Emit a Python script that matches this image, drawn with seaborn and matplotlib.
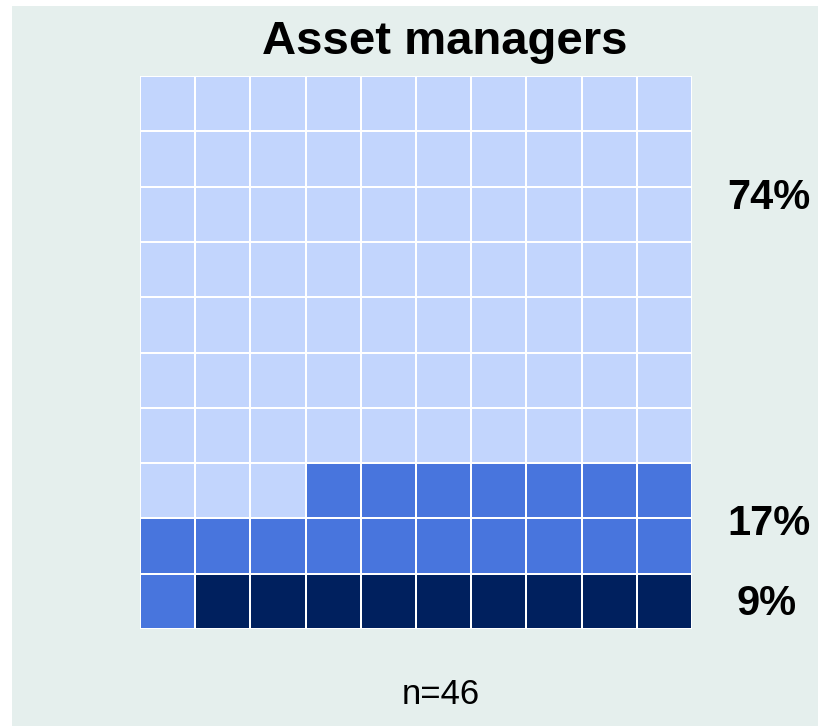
import numpy as np
import matplotlib
matplotlib.use("Agg")
import matplotlib.pyplot as plt
from matplotlib.colors import ListedColormap
from matplotlib.patches import Rectangle
import seaborn as sns

# data (cells out of 100, filled from bottom right)
categories = ["light", "medium", "dark"]
cell_counts = [73, 18, 9]
pct_labels = ["74%", "17%", "9%"]
colors = ["#c2d5fd", "#4875dd", "#00205e"]
title = "Asset managers"
n_text = "n=46"

sns.set_theme(style="white")
plt.rcParams["font.family"] = ["Liberation Sans", "DejaVu Sans"]

# build the 10x10 grid: fill bottom row first, right to left
grid = np.zeros((10, 10), dtype=int)
fill = []
for code in [2, 1, 0]:
    fill += [code] * cell_counts[code]
k = 0
for r in range(9, -1, -1):
    for c in range(9, -1, -1):
        grid[r, c] = fill[k]
        k += 1

W, H = 818, 726
fig = plt.figure(figsize=(W / 100, H / 100), dpi=100, facecolor="white")
fig.add_artist(Rectangle((12 / W, 0), 1 - 12 / W, 1 - 6 / H,
                         transform=fig.transFigure, facecolor="#e5efed",
                         edgecolor="none", zorder=-10))

ax = fig.add_axes([140 / W, 1 - 629 / H, 552 / W, 553 / H])
sns.heatmap(grid, ax=ax, cmap=ListedColormap(colors), vmin=-0.5, vmax=2.5,
            cbar=False, linewidths=1.2, linecolor="white", square=False,
            xticklabels=False, yticklabels=False)
ax.set_facecolor("none")

# percentage labels on the right
label_rows = [2.2, 8.1, 9.55]
label_x = [11.4, 11.4, 11.35]
for txt, yy, xx in zip(pct_labels, label_rows, label_x):
    ax.text(xx, yy, txt, ha="center", va="center", fontsize=30,
            fontweight="bold", color="black", clip_on=False)

fig.text(445 / W, 1 - 42 / H, title, ha="center", va="center",
         fontsize=34, fontweight="bold", color="black")
fig.text(441 / W, 1 - 695 / H, n_text, ha="center", va="center",
         fontsize=25, color="black")

fig.savefig("out.png", dpi=100, facecolor="white")
